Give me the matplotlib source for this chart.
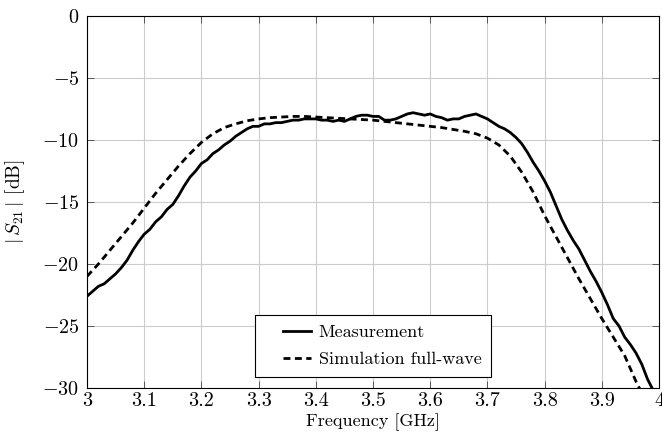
import matplotlib
matplotlib.use("Agg")
import matplotlib.pyplot as plt
from matplotlib.legend_handler import HandlerLine2D

# measured |S21| (dB), every 0.01 GHz from 3.00 to 4.00
freq_meas = [round(3.0 + 0.01 * i, 2) for i in range(101)]
s21_meas = [
    -22.6, -22.2, -21.8, -21.6, -21.2, -20.8, -20.3, -19.7, -18.9, -18.2,
    -17.6, -17.2, -16.6, -16.2, -15.6, -15.2, -14.5, -13.7, -13.0, -12.5,
    -11.9, -11.6, -11.1, -10.8, -10.4, -10.1, -9.7, -9.4, -9.1, -8.9,
    -8.9, -8.7, -8.7, -8.6, -8.6, -8.5, -8.4, -8.4, -8.3, -8.3,
    -8.3, -8.4, -8.4, -8.5, -8.4, -8.5, -8.3, -8.1, -8.0, -8.0,
    -8.1, -8.1, -8.4, -8.4, -8.3, -8.1, -7.9, -7.8, -7.9, -8.0,
    -7.9, -8.1, -8.2, -8.4, -8.3, -8.3, -8.1, -8.0, -7.9, -8.1,
    -8.3, -8.6, -8.9, -9.1, -9.4, -9.8, -10.3, -11.0, -11.8, -12.5,
    -13.3, -14.2, -15.3, -16.4, -17.3, -18.1, -18.8, -19.7, -20.6, -21.4,
    -22.3, -23.3, -24.4, -25.0, -25.9, -26.5, -27.2, -28.1, -29.3, -30.2,
    -31.0,
]

# full-wave simulation
freq_sim = [
    3.00, 3.02, 3.04, 3.06, 3.08, 3.10, 3.12, 3.14, 3.16, 3.18,
    3.20, 3.22, 3.24, 3.26, 3.28, 3.30, 3.32, 3.34, 3.36, 3.38,
    3.40, 3.42, 3.44, 3.46, 3.48, 3.50, 3.52, 3.54, 3.56, 3.58,
    3.60, 3.62, 3.64, 3.66, 3.68, 3.70, 3.72, 3.74, 3.76, 3.78,
    3.80, 3.82, 3.84, 3.86, 3.88, 3.90, 3.92, 3.94, 3.96, 3.97,
]
s21_sim = [
    -21.0, -20.0, -18.9, -17.8, -16.7, -15.5, -14.3, -13.2, -12.1, -11.1,
    -10.2, -9.5, -9.0, -8.7, -8.45, -8.3, -8.2, -8.15, -8.1, -8.1,
    -8.15, -8.2, -8.25, -8.3, -8.35, -8.4, -8.5, -8.6, -8.7, -8.8,
    -8.9, -9.0, -9.15, -9.3, -9.5, -9.85, -10.4, -11.3, -12.6, -14.2,
    -16.1, -17.8, -19.5, -21.2, -22.8, -24.4, -25.9, -27.4, -29.5, -30.4,
]

xticks = [3, 3.1, 3.2, 3.3, 3.4, 3.5, 3.6, 3.7, 3.8, 3.9, 4]
xticklabels = ["3", "3.1", "3.2", "3.3", "3.4", "3.5", "3.6", "3.7", "3.8", "3.9", "4"]
yticks = [0, -5, -10, -15, -20, -25, -30]

plt.rcParams["font.family"] = "serif"
plt.rcParams["font.serif"] = ["cmr10"]
plt.rcParams["mathtext.fontset"] = "cm"
plt.rcParams["axes.formatter.use_mathtext"] = True

fig = plt.figure(figsize=(6.62, 4.38), dpi=100)
ax = fig.add_axes([0.1314, 0.1142, 0.8641, 0.8493])

ax.plot(freq_meas, s21_meas, color="black", lw=2, label="Measurement")
ax.plot(freq_sim, s21_sim, color="black", lw=2, dashes=(2.5, 1.6),
        label="Simulation full-wave")

ax.set_xlim(3, 4)
ax.set_ylim(-30, 0)
ax.set_xticks(xticks)
ax.set_xticklabels(xticklabels)
ax.set_yticks(yticks)
ax.set_yticklabels([f"${v}$" for v in yticks])
ax.tick_params(direction="in", top=True, right=True, length=5, width=0.6,
               color="#444444", labelsize=14.5)
ax.tick_params(axis="x", pad=3)
ax.tick_params(axis="y", pad=5.5)
ax.grid(True, color="#cccccc", lw=0.8)
ax.set_axisbelow(True)
for s in ax.spines.values():
    s.set_linewidth(0.8)

ax.set_xlabel("Frequency [GHz]", fontsize=13, labelpad=2)
ax.set_ylabel(r"$|\,S_{21}\,|$ [dB]", fontsize=14)
ax.yaxis.set_label_coords(-0.104, 0.5)

hmap = {ln: HandlerLine2D(xpad=1.0) for ln in ax.get_lines()}
leg = ax.legend(loc="lower center", bbox_to_anchor=(0.5, 0.03), fancybox=False,
                edgecolor="black", framealpha=1, fontsize=13, handlelength=2.6,
                handletextpad=0.4, borderpad=0.55, labelspacing=0.6,
                borderaxespad=0, handler_map=hmap)
leg.get_frame().set_linewidth(0.8)

fig.savefig("out.png", dpi=100)
